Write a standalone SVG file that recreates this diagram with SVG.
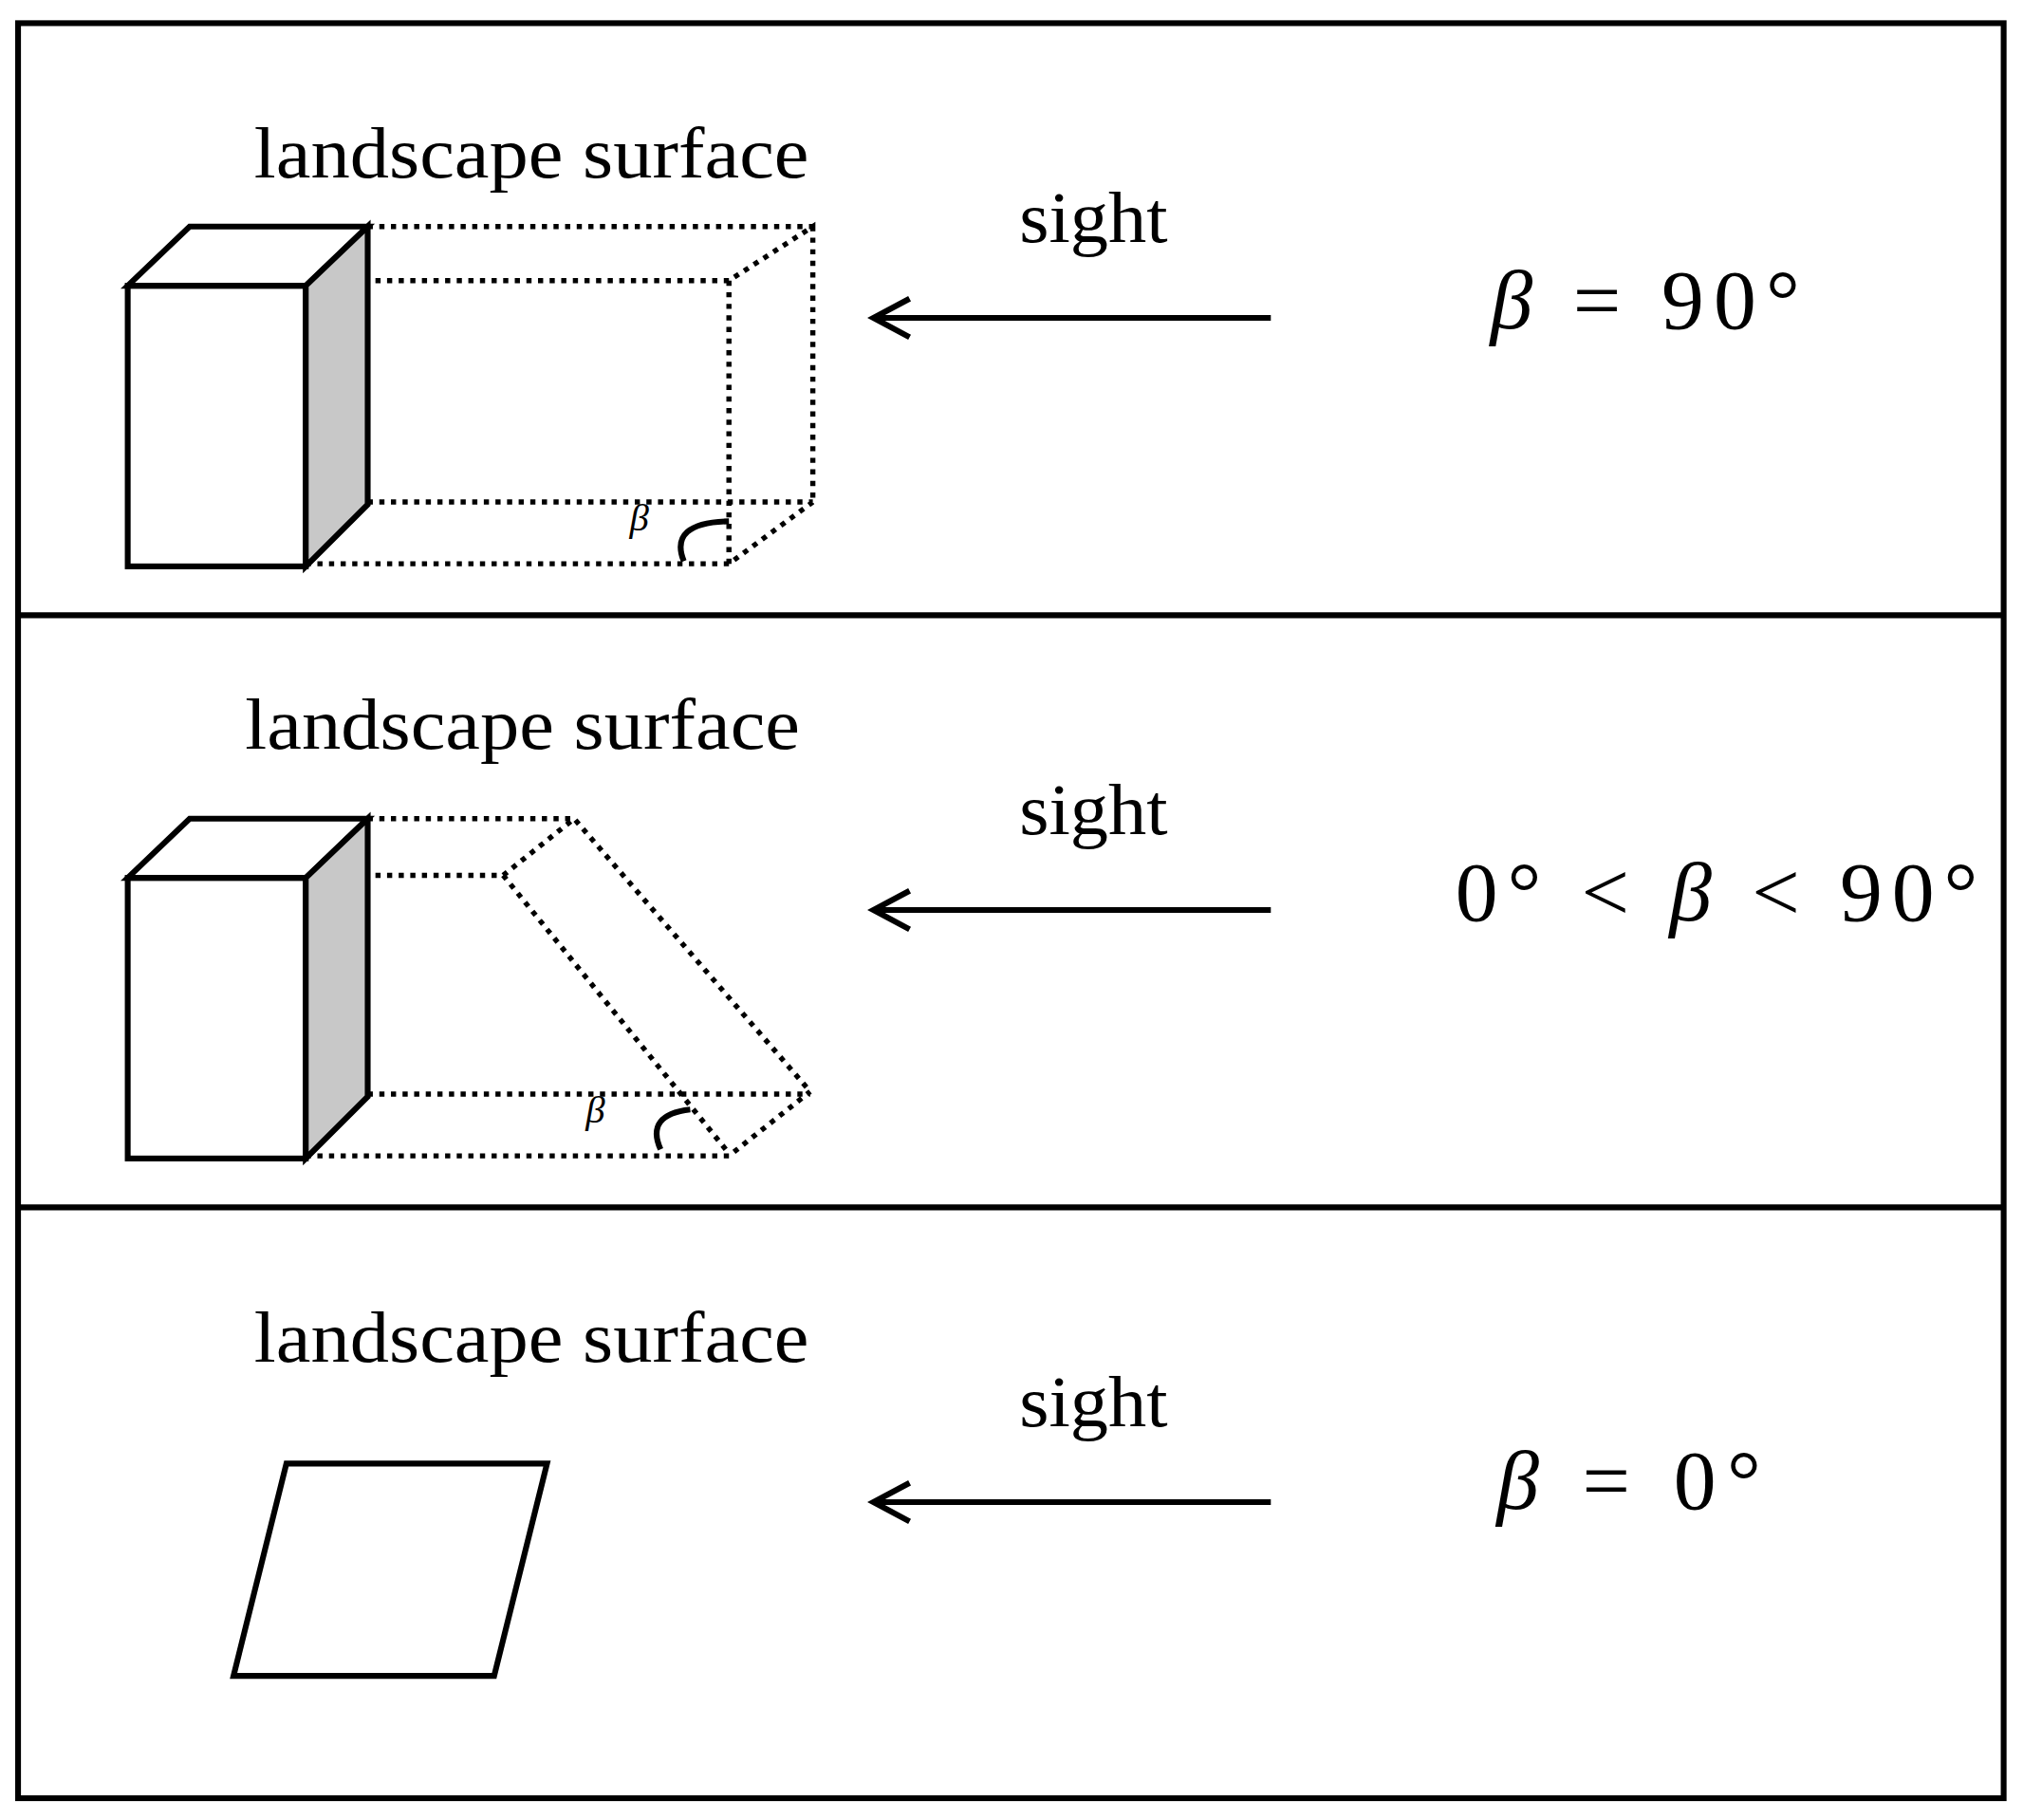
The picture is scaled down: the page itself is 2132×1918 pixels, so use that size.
<svg xmlns="http://www.w3.org/2000/svg" width="2132" height="1918" viewBox="0 0 2132 1918">
<style>
.t{font-family:"Liberation Serif",serif;font-size:56px;fill:#000}
.m{font-family:"Liberation Serif",serif;font-size:66px;fill:#000}
.b{font-family:"Liberation Serif",serif;font-style:italic;font-size:30px;fill:#000}
.s{fill:#fff;stroke:#000;stroke-width:4.5;stroke-linejoin:miter}
.g{fill:#c8c8c8;stroke:#000;stroke-width:4.5}
.d{fill:none;stroke:#000;stroke-width:4;stroke-dasharray:4 5}
.a{fill:none;stroke:#000;stroke-width:4.5}
</style>
<rect width="2132" height="1918" fill="#fff"/>
<g transform="scale(1.3597,1.3565)">
<g id="frame">
<rect x="14" y="18" width="1539" height="1379" fill="none" stroke="#000" stroke-width="4.5"/>
<line x1="14" y1="478" x2="1553" y2="478" stroke="#000" stroke-width="4.5"/>
<line x1="14" y1="938" x2="1553" y2="938" stroke="#000" stroke-width="4.5"/>
</g>
<g id="panel1">
<text class="t" x="197" y="138" textLength="430" lengthAdjust="spacingAndGlyphs">landscape surface</text>
<path class="d" d="M285,176H630M237,218H565L630,176V390M565,218V438M285,390H630M237,438H565L630,390"/>
<rect class="s" x="99" y="222" width="138" height="218"/>
<polygon class="s" points="99,222 147,176 285,176 237,222"/>
<polygon class="g" points="237,222 285,176 285,392 237,440"/>
<text class="b" x="488" y="412">β</text>
<path class="a" d="M530,436 Q518,406 565,405"/>
<text class="t" x="790" y="188" textLength="115" lengthAdjust="spacingAndGlyphs">sight</text>
<text class="m" x="1155" y="255" textLength="240" lengthAdjust="spacing"><tspan font-style="italic">β</tspan> = 90°</text>
</g>
<g id="panel2">
<text class="t" x="190" y="582" textLength="430" lengthAdjust="spacingAndGlyphs">landscape surface</text>
<path class="d" d="M285,636H445M237,680H390L445,636L628,848M390,680L565,896M285,850H628M237,898H565L628,848"/>
<rect class="s" x="99" y="682" width="138" height="218"/>
<polygon class="s" points="99,682 147,636 285,636 237,682"/>
<polygon class="g" points="237,682 285,636 285,852 237,900"/>
<text class="b" x="454" y="872">β</text>
<path class="a" d="M512,893 Q500,866 535,862"/>
<text class="t" x="790" y="648" textLength="115" lengthAdjust="spacingAndGlyphs">sight</text>
<text class="m" x="1128" y="715" textLength="405" lengthAdjust="spacing">0° &lt; <tspan font-style="italic">β</tspan> &lt; 90°</text>
</g>
<g id="panel3">
<text class="t" x="197" y="1058" textLength="430" lengthAdjust="spacingAndGlyphs">landscape surface</text>
<polygon class="s" points="222,1137 424,1137 383,1302 181,1302"/>
<text class="t" x="790" y="1108" textLength="115" lengthAdjust="spacingAndGlyphs">sight</text>
<text class="m" x="1160" y="1172" textLength="205" lengthAdjust="spacing"><tspan font-style="italic">β</tspan> = 0°</text>
</g>
<g id="connectors">
<path class="a" d="M985,247H677M705,232L677,247L705,262"/>
<path class="a" d="M985,707H677M705,692L677,707L705,722"/>
<path class="a" d="M985,1167H677M705,1152L677,1167L705,1182"/>
</g>
</g>
</svg>
